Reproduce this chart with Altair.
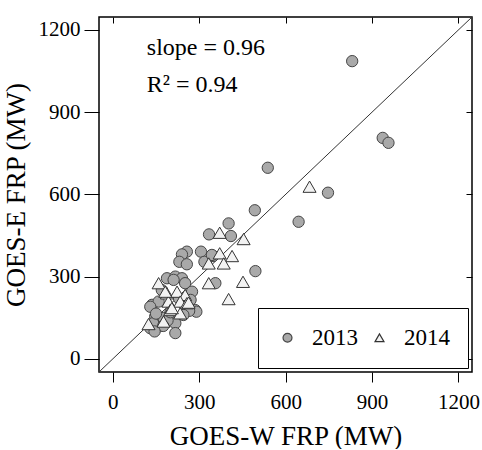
import altair as alt
import pandas as pd

# GOES-W FRP (x) vs GOES-E FRP (y), MW
x2013 = [831, 937, 957, 538, 747, 493, 645, 402, 334, 410, 495, 356, 257, 240, 231, 257,
         306, 318, 348, 344, 188, 217, 240, 251, 275, 170, 211, 136, 159, 130, 286, 290,
         147, 205, 217, 130, 159, 217, 176, 140, 190, 250, 265, 230, 200, 150, 175, 145,
         245, 270]
y2013 = [1086, 806, 788, 697, 606, 542, 500, 494, 454, 448, 320, 276, 391, 381, 354, 345,
         391, 354, 375, 379, 294, 300, 294, 276, 245, 251, 288, 197, 209, 190, 178, 172,
         154, 154, 130, 112, 118, 94, 149, 130, 140, 195, 175, 220, 170, 165, 120, 100,
         160, 215]
x2014 = [683, 371, 454, 371, 414, 385, 333, 333, 452, 402, 159, 188, 223, 251, 193, 234,
         257, 263, 199, 234, 124, 176, 205, 182]
y2014 = [628, 460, 437, 385, 375, 348, 348, 276, 281, 218, 276, 239, 245, 233, 209, 209,
         203, 205, 178, 166, 127, 136, 185, 245]
years = ["2013", "2014"]

# 1:1 reference line and annotation
line_x = [-48, 1247]
line_y = [-48, 1247]
ann_x = [118, 118]
ann_y = [1107, 973]
ann_text = ["slope = 0.96", "R\u00b2 = 0.94"]

tick_vals = [0, 300, 600, 900, 1200]
dom = [-48, 1247]
FONT = "Liberation Serif"

df13 = pd.DataFrame({"w": x2013, "e": y2013, "year": [years[0]] * len(x2013)})
df14 = pd.DataFrame({"w": x2014, "e": y2014, "year": [years[1]] * len(x2014)})
line_df = pd.DataFrame({"lx": line_x, "ly": line_y})
ann_df = pd.DataFrame({"ax": ann_x, "ay": ann_y, "t": ann_text})

xs = alt.Scale(domain=dom, nice=False, zero=False)
ys = alt.Scale(domain=dom, nice=False, zero=False)

legend = alt.Legend(
    title=None, orient="bottom-right", offset=4, direction="horizontal",
    strokeColor="black", fillColor="white", padding=18,
    labelFont=FONT, labelFontSize=23, labelColor="black",
    symbolSize=80, columnPadding=10, labelOffset=13,
    symbolStrokeWidth=1.2, symbolOpacity=1,
)
shape_enc = alt.Shape("year:N", scale=alt.Scale(domain=years, range=["circle", "triangle-up"]),
                      legend=legend)
fill_enc = alt.Fill("year:N", scale=alt.Scale(domain=years, range=["#a9a9a9", "#f2f2f2"]),
                    legend=legend)
stroke_enc = alt.Stroke("year:N", scale=alt.Scale(domain=years, range=["#454545", "#333333"]),
                        legend=legend)


def pts_layer(df, size, with_axes):
    if with_axes:
        xe = alt.X("w:Q", scale=xs, axis=alt.Axis(
            orient="bottom", values=tick_vals, format="d", title="GOES-W FRP (MW)", tickSize=10,
            labelPadding=9, titlePadding=11, domain=False, grid=False))
        ye = alt.Y("e:Q", scale=ys, axis=alt.Axis(
            orient="left", values=tick_vals, format="d", title="GOES-E FRP (MW)", tickSize=15,
            labelPadding=4, titlePadding=8, domain=False, grid=False))
    else:
        xe = alt.X("w:Q", scale=xs, axis=None)
        ye = alt.Y("e:Q", scale=ys, axis=None)
    return alt.Chart(df).mark_point(filled=True, opacity=1, strokeWidth=1, size=size).encode(
        x=xe, y=ye, shape=shape_enc, fill=fill_enc, stroke=stroke_enc)


circles = pts_layer(df13, 128, True)
triangles = pts_layer(df14, 170, False)

line = alt.Chart(line_df).mark_line(color="#333333", strokeWidth=1, clip=True).encode(
    x=alt.X("lx:Q", scale=xs, axis=alt.Axis(
        orient="top", values=tick_vals, labels=False, title=None, tickSize=6, offset=-6,
        domain=False, grid=False)),
    y=alt.Y("ly:Q", scale=ys, axis=alt.Axis(
        orient="right", values=tick_vals, labels=False, title=None, tickSize=6, offset=-6,
        domain=False, grid=False)),
)

ann = alt.Chart(ann_df).mark_text(align="left", baseline="alphabetic", fontSize=24,
                                   font=FONT, color="black").encode(
    x=alt.X("ax:Q", scale=xs, axis=None),
    y=alt.Y("ay:Q", scale=ys, axis=None),
    text="t:N",
)

chart = alt.layer(line, circles, triangles, ann).resolve_axis(
    x="independent", y="independent"
).properties(
    width=373, height=355,
    padding={"left": 2, "top": 16, "right": 2, "bottom": 0},
).configure_view(
    stroke="black", strokeWidth=1.5
).configure_axis(
    labelFont=FONT, titleFont=FONT, labelFontSize=21, titleFontSize=27,
    titleFontWeight="normal", labelColor="black", titleColor="black",
    tickColor="black", tickWidth=1,
)

chart.save("out.html", embed_options={"renderer": "svg", "actions": False})
